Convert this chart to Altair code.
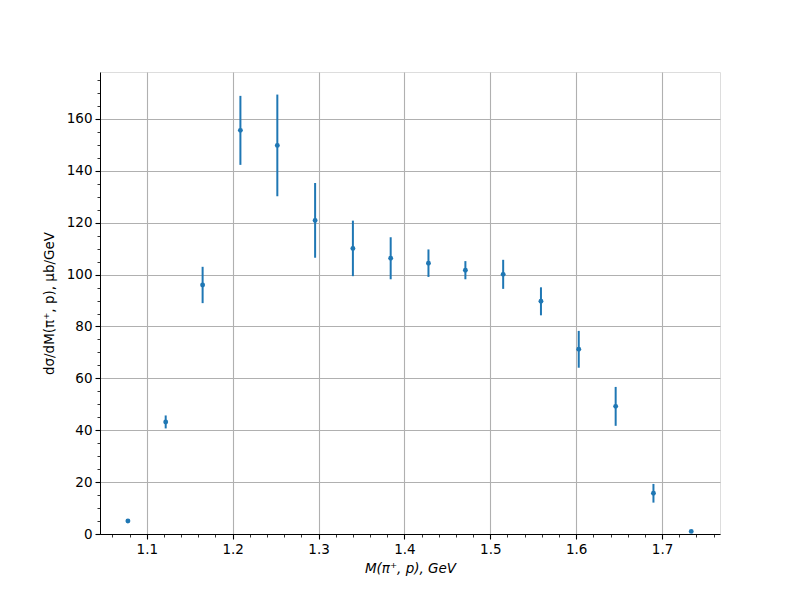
import altair as alt
import pandas as pd

mass = [1.078, 1.122, 1.165, 1.209, 1.252, 1.296, 1.340, 1.384, 1.428, 1.471,
        1.515, 1.559, 1.603, 1.646, 1.690, 1.734]
xsec = [5.0, 43.2, 96.0, 155.6, 149.8, 120.9, 110.1, 106.3, 104.4, 101.7,
        100.1, 89.7, 71.2, 49.2, 15.7, 1.0]
err = [0.0, 2.5, 7.0, 13.3, 19.6, 14.4, 10.7, 8.1, 5.3, 3.5,
       5.6, 5.4, 7.1, 7.5, 3.6, 0.0]

x_major = [1.1, 1.2, 1.3, 1.4, 1.5, 1.6, 1.7]
y_major = [0, 20, 40, 60, 80, 100, 120, 140, 160]
x_minor = [round(1.06 + 0.02 * i, 2) for i in range(36)]
y_minor = [5 * i for i in range(36)]

df = pd.DataFrame({"x": mass, "y": xsec, "e": err})

BLUE = "#1f77b4"
FONT = "DejaVu Sans"
xscale = alt.Scale(domain=[1.0455, 1.7675], nice=False, zero=False)
yscale = alt.Scale(domain=[0, 178.1], nice=False)

base = alt.Chart(df).transform_calculate(lo="datum.y - datum.e", hi="datum.y + datum.e")

xaxis = alt.Axis(values=x_major, format=".1f", grid=True, gridColor="#b0b0b0", gridWidth=1.1,
                 tickSize=5, tickColor="black", tickWidth=1.1, domainColor="black",
                 labelFont=FONT, labelFontSize=13.5, labelColor="black", labelPadding=3,
                 title="M(π⁺, p), GeV", titleFont=FONT, titleFontSize=13.5, titleFontWeight="normal",
                 titleFontStyle="italic", titleColor="black", titlePadding=6, orient="bottom")
yaxis = alt.Axis(values=y_major, format="d", grid=True, gridColor="#b0b0b0", gridWidth=1.1,
                 tickSize=5, tickColor="black", tickWidth=1.1, domainColor="black",
                 labelFont=FONT, labelFontSize=13.5, labelColor="black", labelPadding=3,
                 title="dσ/dM(π⁺, p), μb/GeV", titleFont=FONT, titleFontSize=13.5,
                 titleFontWeight="normal", titleColor="black", titlePadding=10, orient="left")

bars = base.mark_rule(color=BLUE, strokeWidth=2).encode(
    x=alt.X("x:Q", scale=xscale, axis=xaxis),
    y=alt.Y("lo:Q", scale=yscale, axis=yaxis),
    y2="hi:Q",
)
pts = base.mark_circle(color=BLUE, size=24, opacity=1).encode(
    x=alt.X("x:Q", scale=xscale),
    y=alt.Y("y:Q", scale=yscale),
)

minor = base.mark_point(opacity=0).encode(
    x=alt.X("x:Q", scale=xscale,
            axis=alt.Axis(values=x_minor, labels=False, grid=False, domain=False, tickSize=3,
                          tickColor="black", tickWidth=0.8, title=None, orient="bottom")),
    y=alt.Y("y:Q", scale=yscale,
            axis=alt.Axis(values=y_minor, labels=False, grid=False, domain=False, tickSize=3,
                          tickColor="black", tickWidth=0.8, title=None, orient="left")),
)

chart = alt.layer(alt.layer(bars, pts), minor).resolve_axis(
    x="independent", y="independent"
).properties(
    width=620, height=462,
    autosize=alt.AutoSizeParams(type="none"),
    padding={"left": 92, "top": 64, "right": 72, "bottom": 58},
).configure_view(stroke="black", strokeWidth=1.1).configure(background="white")

chart.save("out.html", embed_options={"renderer": "svg", "actions": False})
